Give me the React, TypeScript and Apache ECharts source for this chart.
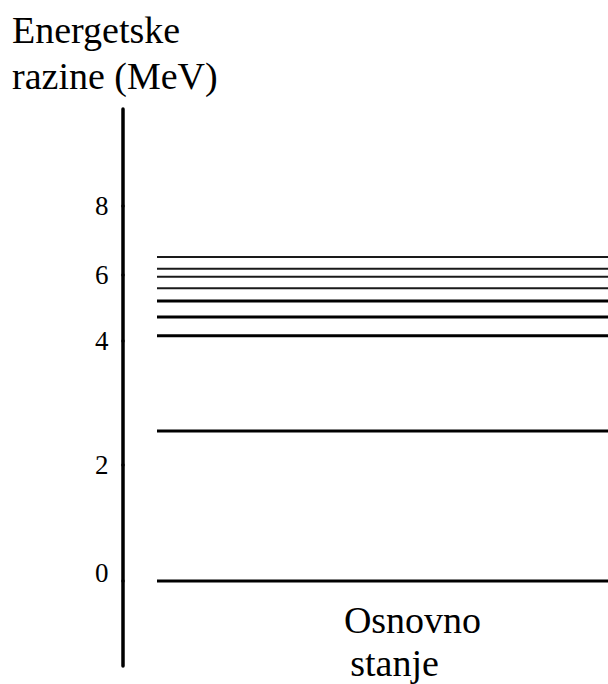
import React, { useEffect, useRef } from "react";
import * as echarts from "echarts";

// Energy levels (MeV)
const energyLevelsMeV = [0, 2.55, 4.16, 4.73, 5.21, 5.6, 5.95, 6.18, 6.52];
// Tick labels on the energy axis
const tickLabels = [0, 2, 4, 6, 8];
// The diagram is drawn piecewise to scale: axis segment boundaries (MeV)
const axisBreaks = [-1.5, 0, 2, 4, 6, 8, 10.8];
const titleLines = ["Energetske", "razine (MeV)"];
const groundLabelLines = ["Osnovno", "stanje"];

// ---- layout / style (not data) ----
const W = 608;
const H = 684;
const breakPixelY = [666, 581, 465, 341, 275, 206, 109];
const levelLeft = 157;
const axisX = 122.5;
const FONT = "Times New Roman, Liberation Serif, serif";
const xMin = -(levelLeft - axisX) / (W - levelLeft);

function levelStyle(v: number) {
  return v >= 5.5 ? { width: 2, color: "#1a1a1a" } : { width: 3, color: "#000" };
}

export default function App() {
  const ref = useRef<HTMLDivElement>(null);
  useEffect(() => {
    if (!ref.current) return;
    const chart = echarts.init(ref.current, undefined, { renderer: "svg" });
    const nSeg = axisBreaks.length - 1;
    const grids: any[] = [];
    const xAxes: any[] = [];
    const yAxes: any[] = [];
    for (let i = 0; i < nSeg; i++) {
      const lo = axisBreaks[i];
      const hi = axisBreaks[i + 1];
      const top = breakPixelY[i + 1];
      const height = breakPixelY[i] - breakPixelY[i + 1];
      grids.push({
        left: axisX,
        right: 0,
        top,
        height,
        containLabel: false,
        outerBoundsMode: "none",
      });
      xAxes.push({ type: "value", gridIndex: i, min: xMin, max: 1, show: false });
      const labelsHere = tickLabels.filter((t) => t >= lo && t < hi);
      yAxes.push({
        type: "value",
        gridIndex: i,
        min: lo,
        max: hi,
        position: "left",
        axisLine: { show: true, onZero: false, lineStyle: { color: "#000", width: 3.5 } },
        axisTick: { show: false },
        splitLine: { show: false },
        axisLabel: {
          show: labelsHere.length > 0,
          customValues: labelsHere,
          margin: 14,
          fontSize: 27,
          fontFamily: FONT,
          color: "#000",
          formatter: (val: number) => (val === 0 ? `{z|${val}}` : `{n|${val}}`),
          rich: {
            n: { fontFamily: FONT, fontSize: 27, color: "#000" },
            z: { fontFamily: FONT, fontSize: 27, color: "#000", padding: [0, 0, 16, 0] },
          },
        },
      });
    }
    const series = energyLevelsMeV.map((v) => {
      let seg = 0;
      for (let i = 0; i < nSeg; i++) {
        if (v >= axisBreaks[i] && v < axisBreaks[i + 1]) seg = i;
      }
      return {
        type: "line",
        xAxisIndex: seg,
        yAxisIndex: seg,
        data: [
          [0, v],
          [1, v],
        ],
        symbol: "none",
        clip: false,
        silent: true,
        lineStyle: levelStyle(v),
      };
    });
    chart.setOption({
      animation: false,
      backgroundColor: "#fff",
      textStyle: { fontFamily: FONT },
      grid: grids,
      xAxis: xAxes,
      yAxis: yAxes,
      series,
      graphic: [
        ...titleLines.map((t, k) => ({
          type: "text",
          x: 12,
          y: 29.5 + k * 46,
          silent: true,
          style: {
            text: t,
            fontFamily: FONT,
            fontSize: 38,
            fill: "#000",
            verticalAlign: "middle",
            align: "left",
          },
        })),
        ...groundLabelLines.map((t, k) => ({
          type: "text",
          x: k === 0 ? 412.5 : 394.5,
          y: 619.5 + k * 43,
          silent: true,
          style: {
            text: t,
            fontFamily: FONT,
            fontSize: 38,
            fill: "#000",
            verticalAlign: "middle",
            align: "center",
          },
        })),
      ],
    });
    return () => chart.dispose();
  }, []);
  return (
    <div
      ref={ref}
      style={{ position: "fixed", left: 0, top: 0, width: W, height: H, background: "#fff" }}
    />
  );
}
